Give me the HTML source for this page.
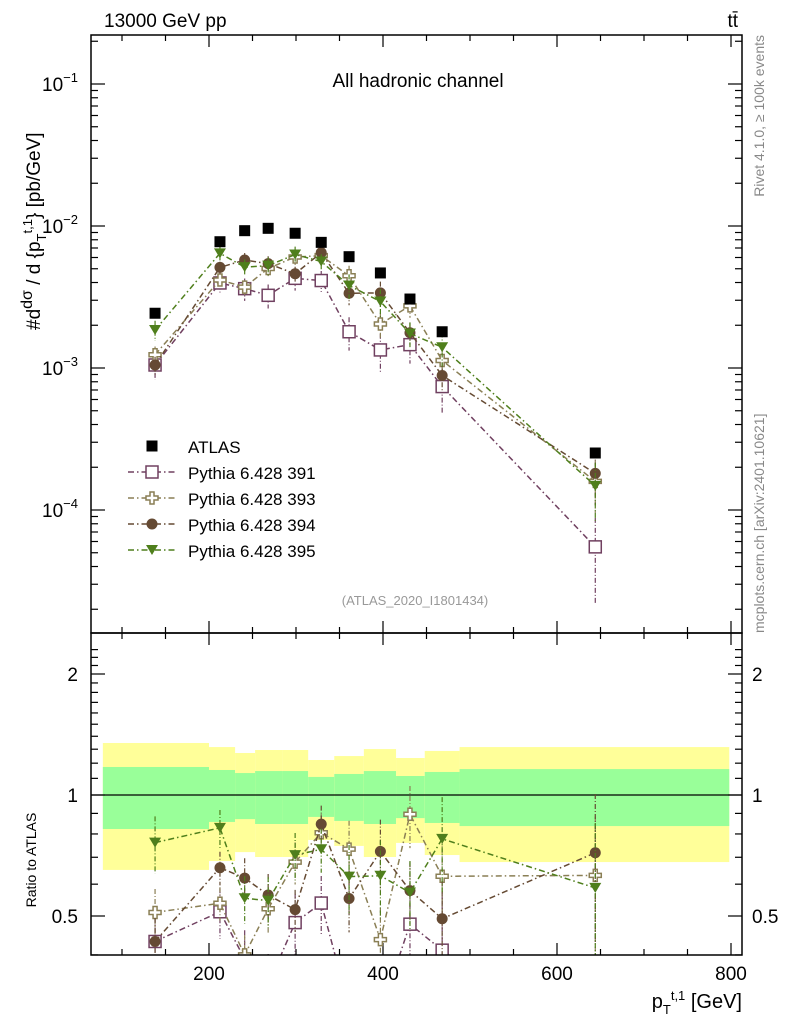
<!DOCTYPE html>
<html><head><meta charset="utf-8"><style>
html,body{margin:0;background:#fff;overflow:hidden;width:786px;height:1024px;}
svg{display:block;font-family:"Liberation Sans",sans-serif;}
</style></head><body>
<svg id="chart" width="786" height="1024" viewBox="0 0 786 1024">
<g id="bands"></g>
<g id="axes"></g>
<g id="series"></g>
<rect x="91" y="35" width="651" height="598" fill="none" stroke="#000" stroke-width="1.5"/>
<rect x="91" y="633" width="651" height="322" fill="none" stroke="#000" stroke-width="1.5"/>
<text x="104" y="27" font-size="19">13000 GeV pp</text>
<text x="738" y="27" font-size="19" text-anchor="end">tt̄</text>
<text x="418" y="87" font-size="19" text-anchor="middle">All hadronic channel</text>
<text x="415" y="605" font-size="13" fill="#999" text-anchor="middle">(ATLAS_2020_I1801434)</text>
<text transform="translate(40,330) rotate(-90)" font-size="19">#d<tspan font-size="16" dy="-8">dσ</tspan><tspan dy="8"> / d {p</tspan><tspan font-size="13" dy="6">T</tspan><tspan font-size="13" dy="-14">t,1</tspan><tspan dy="8">} [pb/GeV]</tspan></text>
<text transform="translate(36,860) rotate(-90)" font-size="14" text-anchor="middle">Ratio to ATLAS</text>
<text x="742" y="1008" font-size="20" text-anchor="end">p<tspan font-size="13" dy="6">T</tspan><tspan font-size="13" dy="-14">t,1</tspan><tspan dy="8"> [GeV]</tspan></text>
<text transform="translate(764,35) rotate(-90)" font-size="14" fill="#888" text-anchor="end">Rivet 4.1.0, ≥ 100k events</text>
<text transform="translate(764,633) rotate(-90)" font-size="14" fill="#888">mcplots.cern.ch [arXiv:2401.10621]</text>
<g id="legend"></g>
</svg>
<script>
const xGeV = [138, 212.6, 241, 268, 299, 329, 361, 397, 431, 468, 644];
const atlas = [2.43e-3, 7.75e-3, 9.27e-3, 9.63e-3, 8.89e-3, 7.67e-3, 6.08e-3, 4.67e-3, 3.06e-3, 1.80e-3, 2.52e-4];
const p391 = [1.05e-3, 3.97e-3, 3.62e-3, 3.25e-3, 4.28e-3, 4.13e-3, 1.80e-3, 1.34e-3, 1.46e-3, 0.74e-3, 5.5e-5];
const p393 = [1.24e-3, 4.17e-3, 3.71e-3, 5.02e-3, 6.05e-3, 6.18e-3, 4.46e-3, 2.04e-3, 2.74e-3, 1.13e-3, 1.59e-4];
const p394 = [1.05e-3, 5.11e-3, 5.76e-3, 5.43e-3, 4.61e-3, 6.49e-3, 3.36e-3, 3.38e-3, 1.77e-3, 0.886e-3, 1.81e-4];
const p395 = [1.85e-3, 6.42e-3, 5.13e-3, 5.26e-3, 6.30e-3, 5.62e-3, 3.81e-3, 2.94e-3, 1.75e-3, 1.40e-3, 1.48e-4];
const relErr = [0.18, 0.12, 0.15, 0.16, 0.15, 0.14, 0.22, 0.25, 0.22, 0.3, 0.5];
const binEdges = [78, 200, 230, 253, 284, 314, 344, 378, 415, 448, 488, 798];
const totUp = [1.347, 1.316, 1.272, 1.294, 1.294, 1.222, 1.250, 1.301, 1.236, 1.287, 1.316];
const statUp = [1.174, 1.154, 1.134, 1.147, 1.147, 1.109, 1.128, 1.147, 1.115, 1.141, 1.160];
const statDn = [0.823, 0.857, 0.871, 0.847, 0.847, 0.882, 0.862, 0.847, 0.876, 0.852, 0.837];
const totDn = [0.651, 0.685, 0.721, 0.701, 0.701, 0.773, 0.747, 0.701, 0.760, 0.709, 0.681];
const xTicks = [200, 400, 600, 800];
const yTickExp = [-1, -2, -3, -4];
const rTicks = [0.5, 1, 2];

const NS = "http://www.w3.org/2000/svg";
const X = v => 209 + (v - 200) * 0.87;
const Y = v => 226 - (Math.log10(v) + 2) * 142;
const R = r => 795 - Math.log2(r) * 121;
function mk(tag, attrs, parent, name) {
  const e = document.createElementNS(NS, tag);
  for (const k in attrs) e.setAttribute(k, attrs[k]);
  
  
  parent.appendChild(e); return e;
}
const bands = document.getElementById('bands');
for (let i = 0; i < totUp.length; i++) {
  const x0 = X(binEdges[i]), x1 = X(binEdges[i + 1]);
  mk('rect', {x: x0, y: R(totUp[i]), width: x1 - x0, height: R(totDn[i]) - R(totUp[i]), fill: '#ffff99'}, bands, 'total-uncertainty-band');
  mk('rect', {x: x0, y: R(statUp[i]), width: x1 - x0, height: R(statDn[i]) - R(statUp[i]), fill: '#99ff99'}, bands, 'stat-uncertainty-band');
}
const axes = document.getElementById('axes');
mk('line', {x1: 91, x2: 742, y1: R(1), y2: R(1), stroke: '#000', 'stroke-width': 1.2}, axes, 'ratio-unity-line');
for (let v = 100; v <= 800; v += 50) {
  const maj = v % 200 === 0, L = maj ? 12 : 6;
  [[35, 1], [633, -1], [633, 1], [955, -1]].forEach(([y, d]) =>
    mk('line', {x1: X(v), x2: X(v), y1: y, y2: y + d * L, stroke: '#000', 'stroke-width': 1.2}, axes, 'x-tick'));
}
xTicks.forEach(v => { const t = mk('text', {x: X(v), y: 980, 'font-size': 19, 'text-anchor': 'middle'}, axes, 'x-tick-label'); t.textContent = v; });
for (let e = -5; e <= -1; e++) for (let m = 1; m <= 9; m++) {
  const y = Y(m * Math.pow(10, e)); if (y < 35 || y > 633) continue;
  const L = m === 1 ? 14 : 7;
  mk('line', {x1: 91, x2: 91 + L, y1: y, y2: y, stroke: '#000', 'stroke-width': 1.2}, axes, 'y-tick');
  mk('line', {x1: 742, x2: 742 - L, y1: y, y2: y, stroke: '#000', 'stroke-width': 1.2}, axes, 'y-tick');
}
yTickExp.forEach(e => {
  const t = mk('text', {x: 78, y: Y(Math.pow(10, e)) + 7, 'font-size': 19, 'text-anchor': 'end'}, axes, 'y-tick-label');
  t.innerHTML = '10<tspan font-size="13" dy="-9">−' + (-e) + '</tspan>';
});
for (let r = 0.2; r <= 2.35; r += 0.1) {
  const y = R(r); if (y < 633 || y > 955) continue;
  const maj = [0.5, 1, 2].some(m => Math.abs(m - r) < 1e-6), L = maj ? 14 : 7;
  mk('line', {x1: 91, x2: 91 + L, y1: y, y2: y, stroke: '#000', 'stroke-width': 1.2}, axes, 'ratio-y-tick');
  mk('line', {x1: 742, x2: 742 - L, y1: y, y2: y, stroke: '#000', 'stroke-width': 1.2}, axes, 'ratio-y-tick');
}
rTicks.forEach(r => {
  const t = mk('text', {x: 78, y: R(r) + 7, 'font-size': 19, 'text-anchor': 'end'}, axes, 'ratio-tick-label'); t.textContent = r;
  const t2 = mk('text', {x: 752, y: R(r) + 7, 'font-size': 19}, axes, 'ratio-tick-label-right'); t2.textContent = r;
});
const seriesG = document.getElementById('series');
function marker(type, x, y, col, parent) {
  if (type === 'sq') mk('rect', {x: x - 5.5, y: y - 5.5, width: 11, height: 11, fill: '#000'}, parent, 'atlas-marker');
  else if (type === 'osq') mk('rect', {x: x - 6, y: y - 6, width: 12, height: 12, fill: '#fff', stroke: col, 'stroke-width': 1.5}, parent, 'square-marker');
  else if (type === 'cross') mk('path', {d: `M${x-2},${y-6}h4v4h4v4h-4v4h-4v-4h-4v-4h4z`, fill: '#fff', stroke: col, 'stroke-width': 1.5}, parent, 'cross-marker');
  else if (type === 'dot') mk('circle', {cx: x, cy: y, r: 5.5, fill: col}, parent, 'circle-marker');
  else if (type === 'tri') mk('path', {d: `M${x-6},${y-5}h12l-6,10z`, fill: col}, parent, 'triangle-marker');
}
const defs = [
  {name: 'pythia-391', vals: p391, col: '#704060', m: 'osq', ek: 1.2},
  {name: 'pythia-393', vals: p393, col: '#8a7f55', m: 'cross', ek: 0.8},
  {name: 'pythia-394', vals: p394, col: '#654a33', m: 'dot', ek: 0.8},
  {name: 'pythia-395', vals: p395, col: '#4f7f1c', m: 'tri', ek: 0.9},
];
const clip = mk('clipPath', {id: 'rclip'}, seriesG, 'ratio-clip');
mk('rect', {x: 91, y: 633, width: 651, height: 322}, clip, 'ratio-clip-rect');
defs.forEach(s => {
  const g = mk('g', {}, seriesG, s.name + '-main');
  const gr = mk('g', {'clip-path': 'url(#rclip)'}, seriesG, s.name + '-ratio');
  const pts = xGeV.map((x, i) => [X(x), Y(s.vals[i])]);
  const rpts = xGeV.map((x, i) => [X(x), R(s.vals[i] / atlas[i])]);
  mk('polyline', {points: pts.map(p => p.join(',')).join(' '), fill: 'none', stroke: s.col, 'stroke-width': 1.5, 'stroke-dasharray': '6,3,1.5,3'}, g, s.name + '-line');
  mk('polyline', {points: rpts.map(p => p.join(',')).join(' '), fill: 'none', stroke: s.col, 'stroke-width': 1.5, 'stroke-dasharray': '6,3,1.5,3'}, gr, s.name + '-ratio-line');
  xGeV.forEach((x, i) => {
    const e = relErr[i] * s.ek, v = s.vals[i], r = v / atlas[i];
    mk('line', {x1: X(x), x2: X(x), y1: Y(v * (1 + e)), y2: Y(v * (1 - e)), stroke: s.col, 'stroke-width': 1.2, 'stroke-dasharray': '5,2,1,2'}, g, 'error-bar');
    mk('line', {x1: X(x), x2: X(x), y1: R(r * (1 + e)), y2: R(r * (1 - e)), stroke: s.col, 'stroke-width': 1.2, 'stroke-dasharray': '5,2,1,2'}, gr, 'ratio-error-bar');
    marker(s.m, X(x), Y(v), s.col, g);
    marker(s.m, X(x), R(r), s.col, gr);
  });
});
const ga = mk('g', {}, seriesG, 'atlas-data');
xGeV.forEach((x, i) => marker('sq', X(x), Y(atlas[i]), '#000', ga));
const lg = document.getElementById('legend');
const labels = ['ATLAS', 'Pythia 6.428 391', 'Pythia 6.428 393', 'Pythia 6.428 394', 'Pythia 6.428 395'];
labels.forEach((lab, i) => {
  const y = 446 + i * 26;
  if (i === 0) marker('sq', 152, y, '#000', lg);
  else {
    const s = defs[i - 1];
    mk('line', {x1: 128, x2: 176, y1: y, y2: y, stroke: s.col, 'stroke-width': 1.5, 'stroke-dasharray': '6,3,1.5,3'}, lg, 'legend-line');
    marker(s.m, 152, y, s.col, lg);
  }
  const t = mk('text', {x: 188, y: y + 7, 'font-size': 17}, lg, 'legend-label'); t.textContent = lab;
});
</script>
</body></html>
